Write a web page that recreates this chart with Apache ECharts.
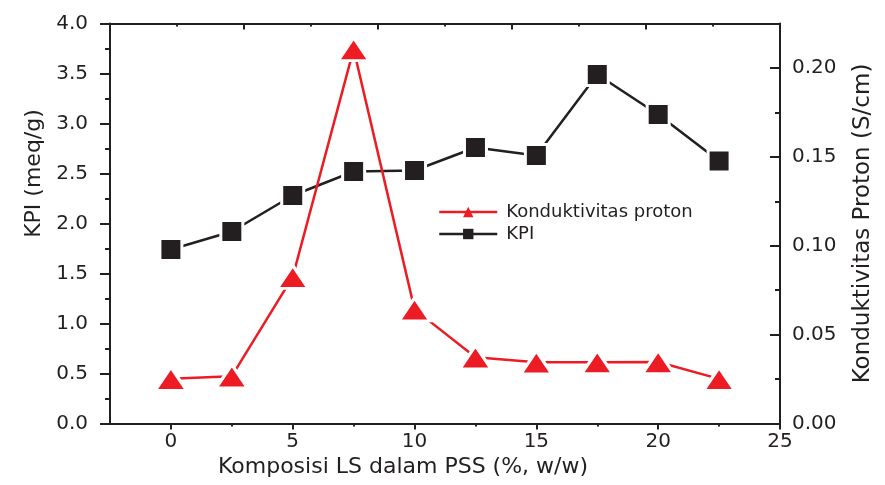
<!DOCTYPE html>
<html>
<head>
<meta charset="utf-8">
<script src="https://cdn.jsdelivr.net/npm/echarts@6/dist/echarts.min.js"></script>
<style>html,body{margin:0;padding:0;background:#fff}#c{width:885px;height:485px}</style>
</head>
<body>
<div id="c"></div>
<script>
const xValues = [0, 2.5, 5, 7.5, 10, 12.5, 15, 17.5, 20, 22.5];
const kpi = [1.74, 1.92, 2.28, 2.52, 2.53, 2.76, 2.68, 3.49, 3.09, 2.625];
const konduktivitas = [0.0252, 0.0266, 0.0825, 0.2106, 0.0642, 0.0373, 0.0344, 0.0345, 0.0346, 0.0251];
const xMajorTicks = [0, 5, 10, 15, 20, 25];
const xMinorTicks = [2.5, 7.5, 12.5, 17.5, 22.5];
const seriesNames = ['Konduktivitas proton', 'KPI'];
const axisTitles = { x: 'Komposisi LS dalam PSS (%, w/w)', yLeft: 'KPI (meq/g)', yRight: 'Konduktivitas Proton (S/cm)' };

const dark = '#231f20';
const red = '#ed1c24';
const font = 'DejaVu Sans';
const axisLine = { show: true, onZero: false, lineStyle: { color: dark, width: 2 } };

const chart = echarts.init(document.getElementById('c'), null, { renderer: 'canvas' });
chart.setOption({
  animation: false,
  backgroundColor: '#fff',
  grid: { left: 110, right: 105, top: 23.5, bottom: 61.5, containLabel: false },
  legend: {
    orient: 'vertical', left: 433, top: 198, itemGap: 4,
    itemWidth: 58, itemHeight: 13,
    itemStyle: { borderWidth: 0 },
    lineStyle: { width: 2.5 },
    textStyle: { fontFamily: font, fontSize: 18, color: dark, padding: [0, 0, 0, 4] },
    data: seriesNames
  },
  xAxis: [
    {
      type: 'value', position: 'bottom', min: -2.5, max: 25,
      axisLine: axisLine,
      axisTick: { show: true, customValues: xMajorTicks, length: 6, inside: false, lineStyle: { color: dark, width: 2 } },
      axisLabel: { customValues: xMajorTicks, fontFamily: font, fontSize: 20, color: dark, margin: 8 },
      splitLine: { show: false },
      name: axisTitles.x, nameLocation: 'middle', nameGap: 33,
      nameTextStyle: { fontFamily: font, fontSize: 22, color: dark, padding: [0, 84, 0, 0] }
    },
    {
      type: 'value', position: 'bottom', min: -2.5, max: 25, gridIndex: 0,
      axisLine: { show: false },
      axisTick: { show: true, customValues: xMinorTicks, length: 3, inside: false, lineStyle: { color: dark, width: 2 } },
      axisLabel: { show: false },
      splitLine: { show: false }
    },
    {
      type: 'value', position: 'top', min: 0, max: 25, interval: 5,
      axisLine: axisLine,
      axisTick: { show: true, inside: true, length: 6, lineStyle: { color: dark, width: 2 } },
      minorTick: { show: true, splitNumber: 2, length: 3, lineStyle: { color: dark, width: 2 } },
      axisLabel: { show: false },
      splitLine: { show: false }
    }
  ],
  yAxis: [
    {
      type: 'value', position: 'left', min: 0, max: 4, interval: 0.5,
      axisLine: axisLine,
      axisTick: { show: true, inside: false, length: 10, lineStyle: { color: dark, width: 2 } },
      minorTick: { show: true, splitNumber: 2, length: 5, lineStyle: { color: dark, width: 2 } },
      axisLabel: { fontFamily: font, fontSize: 20, color: dark, margin: 22, formatter: v => v.toFixed(1) },
      splitLine: { show: false },
      name: axisTitles.yLeft, nameLocation: 'middle', nameGap: 62, nameRotate: 90,
      nameTextStyle: { fontFamily: font, fontSize: 22, color: dark, padding: [0, 0, 0, 100] }
    },
    {
      type: 'value', position: 'right', min: 0, max: 0.225, interval: 0.05,
      axisLine: axisLine,
      axisTick: { show: true, inside: true, length: 10, lineStyle: { color: dark, width: 2 } },
      minorTick: { show: true, splitNumber: 2, length: 5, lineStyle: { color: dark, width: 2 } },
      axisLabel: { fontFamily: font, fontSize: 20, color: dark, margin: 12, showMaxLabel: false, formatter: v => v.toFixed(2) },
      splitLine: { show: false },
      name: axisTitles.yRight, nameLocation: 'middle', nameGap: 72, nameRotate: 90,
      nameTextStyle: { fontFamily: font, fontSize: 23, color: dark }
    }
  ],
  series: [
    {
      name: seriesNames[1], type: 'line', xAxisIndex: 0, yAxisIndex: 0,
      data: xValues.map((x, i) => [x, kpi[i]]),
      symbol: 'rect', symbolSize: 22,
      lineStyle: { color: dark, width: 2.5 },
      itemStyle: { color: dark, borderColor: '#fff', borderWidth: 3 },
      z: 2
    },
    {
      name: seriesNames[0], type: 'line', xAxisIndex: 0, yAxisIndex: 1,
      data: xValues.map((x, i) => [x, konduktivitas[i]]),
      symbol: 'triangle', symbolSize: [31, 23],
      lineStyle: { color: red, width: 2.5 },
      itemStyle: { color: red, borderColor: '#fff', borderWidth: 3 },
      z: 3
    }
  ]
});
</script>
</body>
</html>
